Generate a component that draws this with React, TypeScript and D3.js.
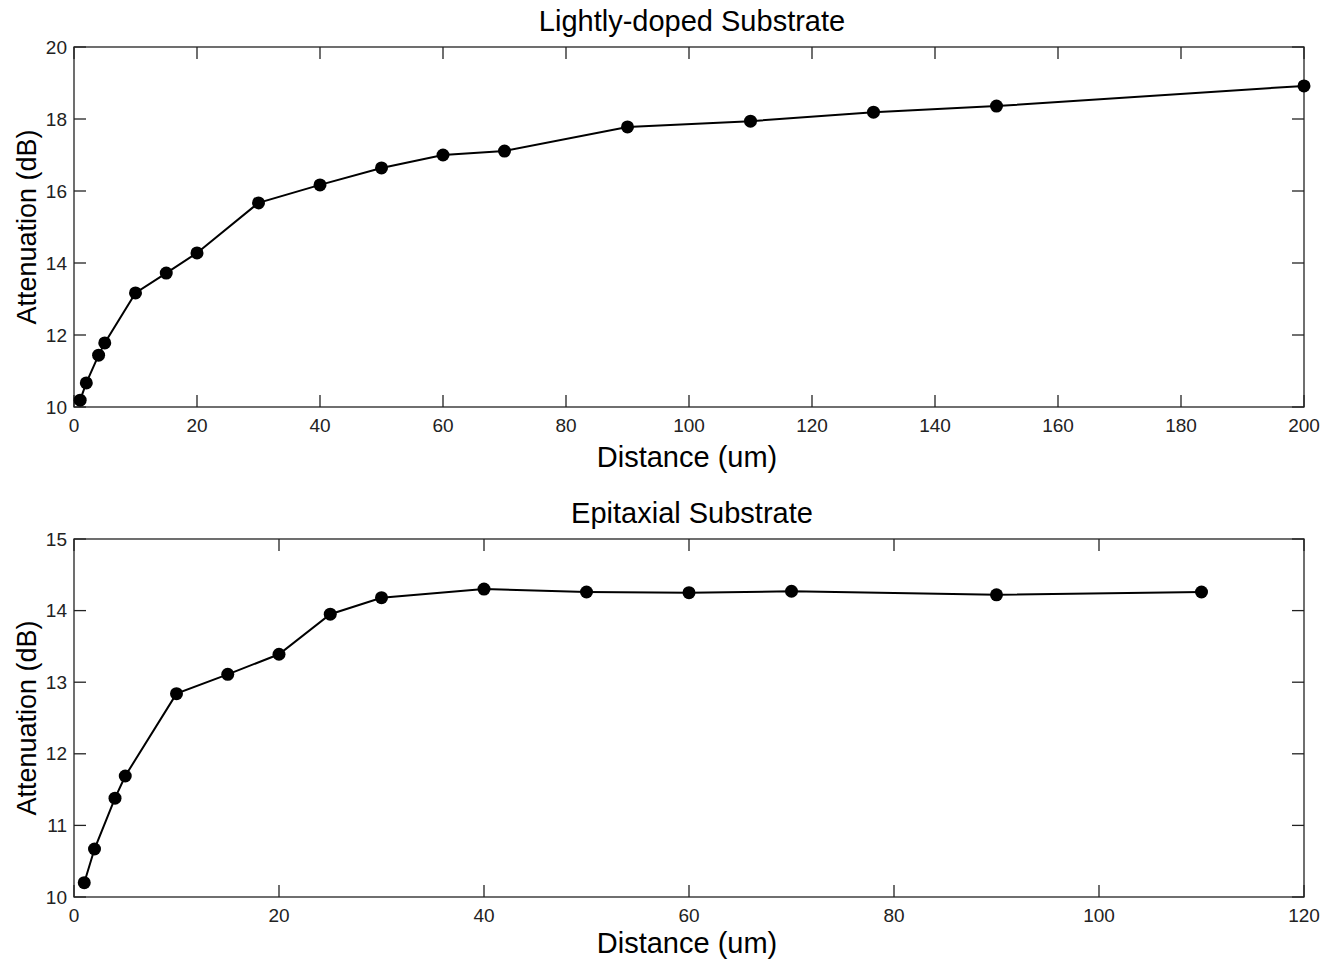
import React from "react";
import * as d3 from "d3";

const topDistance = [1, 2, 4, 5, 10, 15, 20, 30, 40, 50, 60, 70, 90, 110, 130, 150, 200];
const topAttenuation = [10.19, 10.67, 11.44, 11.78, 13.17, 13.72, 14.28, 15.67, 16.17, 16.64, 17.0, 17.11, 17.78, 17.94, 18.19, 18.36, 18.92];
const topXTicks = [0, 20, 40, 60, 80, 100, 120, 140, 160, 180, 200];
const topYTicks = [10, 12, 14, 16, 18, 20];

const botDistance = [1, 2, 4, 5, 10, 15, 20, 25, 30, 40, 50, 60, 70, 90, 110];
const botAttenuation = [10.2, 10.67, 11.38, 11.69, 12.84, 13.11, 13.39, 13.95, 14.18, 14.3, 14.26, 14.25, 14.27, 14.22, 14.26];
const botXTicks = [0, 20, 40, 60, 80, 100, 120];
const botYTicks = [10, 11, 12, 13, 14, 15];

const FONT = "'Liberation Sans', Arial, Helvetica, sans-serif";

type PanelProps = {
  title: string;
  xs: number[];
  ys: number[];
  xDomain: [number, number];
  yDomain: [number, number];
  xTicks: number[];
  yTicks: number[];
  top: number;
  bottom: number;
  xLabelOffset: number;
};

function Panel({ title, xs, ys, xDomain, yDomain, xTicks, yTicks, top, bottom, xLabelOffset }: PanelProps) {
  const left = 74;
  const right = 1304;
  const x = d3.scaleLinear().domain(xDomain).range([left, right]);
  const y = d3.scaleLinear().domain(yDomain).range([bottom, top]);
  const pts = xs.map((d, i) => [d, ys[i]] as [number, number]);
  const line = d3.line<[number, number]>().x((d) => x(d[0])).y((d) => y(d[1]));
  const tl = 12;
  return (
    <g>
      <text x={(left + right) / 2 + 3} y={top - 26} textAnchor="middle" dominantBaseline="central" fontSize={29} fontFamily={FONT} fill="#000">
        {title}
      </text>
      <rect x={left} y={top} width={right - left} height={bottom - top} fill="#fff" stroke="#222" strokeWidth={1.3} />
      {xTicks.map((t) => (
        <g key={"x" + t}>
          <line x1={x(t)} x2={x(t)} y1={bottom} y2={bottom - tl} stroke="#222" strokeWidth={1.3} />
          <line x1={x(t)} x2={x(t)} y1={top} y2={top + tl} stroke="#222" strokeWidth={1.3} />
          <text x={x(t)} y={bottom + 18} textAnchor="middle" dominantBaseline="central" fontSize={19} fontFamily={FONT} fill="#222">
            {t}
          </text>
        </g>
      ))}
      {yTicks.map((t) => (
        <g key={"y" + t}>
          <line x1={left} x2={left + tl} y1={y(t)} y2={y(t)} stroke="#222" strokeWidth={1.3} />
          <line x1={right} x2={right - tl} y1={y(t)} y2={y(t)} stroke="#222" strokeWidth={1.3} />
          <text x={left - 7} y={y(t)} textAnchor="end" dominantBaseline="central" fontSize={19} fontFamily={FONT} fill="#222">
            {t}
          </text>
        </g>
      ))}
      <path d={line(pts) || ""} fill="none" stroke="#000" strokeWidth={2} />
      {pts.map((p, i) => (
        <circle key={i} cx={x(p[0])} cy={y(p[1])} r={6.5} fill="#000" />
      ))}
      <text x={(left + right) / 2 - 2} y={bottom + xLabelOffset} textAnchor="middle" dominantBaseline="central" fontSize={29} fontFamily={FONT} fill="#000">
        Distance (um)
      </text>
      <text
        transform={`translate(27, ${(top + bottom) / 2}) rotate(-90)`}
        textAnchor="middle"
        dominantBaseline="central"
        fontSize={27}
        fontFamily={FONT}
        fill="#000"
      >
        Attenuation (dB)
      </text>
    </g>
  );
}

export default function App() {
  return (
    <svg width={1325} height={961} style={{ position: "absolute", left: 0, top: 0, background: "#fff" }}>
      <rect width={1325} height={961} fill="#fff" />
      <Panel
        title="Lightly-doped Substrate"
        xs={topDistance}
        ys={topAttenuation}
        xDomain={[0, 200]}
        yDomain={[10, 20]}
        xTicks={topXTicks}
        yTicks={topYTicks}
        top={47}
        bottom={407}
        xLabelOffset={50}
      />
      <Panel
        title="Epitaxial Substrate"
        xs={botDistance}
        ys={botAttenuation}
        xDomain={[0, 120]}
        yDomain={[10, 15]}
        xTicks={botXTicks}
        yTicks={botYTicks}
        top={539}
        bottom={897}
        xLabelOffset={46}
      />
    </svg>
  );
}
